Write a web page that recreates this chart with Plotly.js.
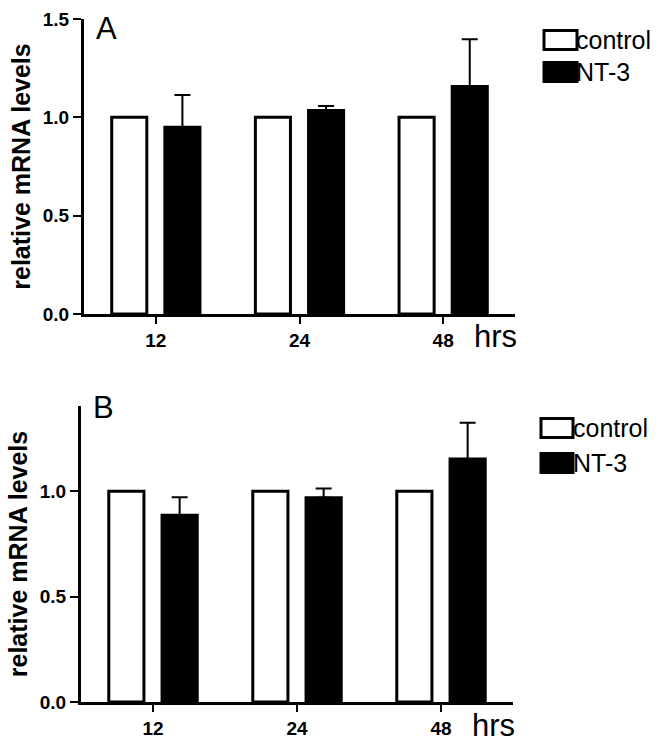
<!DOCTYPE html>
<html>
<head>
<meta charset="utf-8">
<script src="https://cdn.plot.ly/plotly-3.0.1.min.js"></script>
<style>html,body{margin:0;padding:0;background:#fff;}#chart{width:670px;height:748px;}</style>
</head>
<body>
<div id="chart"></div>
<script>
// ---- data ----
var hours = ["12", "24", "48"];
var seriesNames = ["control", "NT-3"];
var controlA = [1.0, 1.0, 1.0];
var nt3A = [0.95, 1.035, 1.157];
var nt3ErrA = [0.163, 0.023, 0.24];
var controlB = [1.0, 1.0, 1.0];
var nt3B = [0.886, 0.969, 1.154];
var nt3ErrB = [0.086, 0.044, 0.171];
var yTicksA = [0, 0.5, 1.0, 1.5];
var yTicksB = [0, 0.5, 1.0];
var panelLabels = ["A", "B"];
var unitLabel = "hrs";
var yTitle = "relative mRNA levels";

// ---- helpers (pixel -> paper) ----
var W = 670, H = 748;
function px(x){ return x / W; }
function py(y){ return 1 - y / H; }

var FONT = "Liberation Sans, Arial, sans-serif";
var zeros = [0, 0, 0];

function ctrlTrace(y, xa, ya){
  return {type:"bar", name:seriesNames[0], x:hours, y:y, xaxis:xa, yaxis:ya,
    marker:{color:"#ffffff", line:{color:"#000000", width:3}}, showlegend:false, hoverinfo:"skip"};
}
function ntTrace(y, err, xa, ya){
  return {type:"bar", name:seriesNames[1], x:hours, y:y, xaxis:xa, yaxis:ya,
    marker:{color:"#000000", line:{color:"#000000", width:3}}, showlegend:false, hoverinfo:"skip",
    error_y:{type:"data", symmetric:false, array:err, arrayminus:zeros, color:"#000000", thickness:2, width:8}};
}

var data = [
  ctrlTrace(controlA, "x", "y"),
  ntTrace(nt3A, nt3ErrA, "x", "y"),
  ctrlTrace(controlB, "x2", "y2"),
  ntTrace(nt3B, nt3ErrB, "x2", "y2")
];

function xaxisDef(d0, d1, anchor){
  return {domain:[px(d0), px(d1)], anchor:anchor, type:"category", range:[-0.5, 2.5],
    showline:true, linewidth:3, linecolor:"#000", ticks:"outside", ticklen:7, tickwidth:2, tickcolor:"#000",
    showgrid:false, zeroline:false, fixedrange:true,
    tickfont:{family:FONT, size:19, color:"#000", weight:"bold"}};
}
function yaxisDef(top, bottom, maxv, tv, anchor){
  return {domain:[py(bottom), py(top)], anchor:anchor, range:[0, maxv], tickvals:tv, tickformat:".1f",
    showline:true, linewidth:3, linecolor:"#000", ticks:"outside", ticklen:8, tickwidth:2, tickcolor:"#000",
    showgrid:false, zeroline:false, fixedrange:true,
    tickfont:{family:FONT, size:19, color:"#000", weight:"bold"},
    title:{text:yTitle, standoff:6, font:{family:FONT, size:25, color:"#000", weight:"bold"}}};
}

var shapes = [], annotations = [];
function legend(x0, x1, yc1, yc2, h, tx){
  shapes.push({type:"rect", xref:"paper", yref:"paper", x0:px(x0), x1:px(x1), y0:py(yc1 + h/2), y1:py(yc1 - h/2),
    line:{color:"#000", width:3}, fillcolor:"#fff"});
  shapes.push({type:"rect", xref:"paper", yref:"paper", x0:px(x0), x1:px(x1), y0:py(yc2 + h/2), y1:py(yc2 - h/2),
    line:{color:"#000", width:3}, fillcolor:"#000"});
  annotations.push({xref:"paper", yref:"paper", x:px(tx), y:py(yc1), xanchor:"left", yanchor:"middle", showarrow:false,
    text:seriesNames[0], font:{family:FONT, size:25, color:"#000"}});
  annotations.push({xref:"paper", yref:"paper", x:px(tx), y:py(yc2), xanchor:"left", yanchor:"middle", showarrow:false,
    text:seriesNames[1], font:{family:FONT, size:25, color:"#000"}});
}
legend(544, 577, 40, 72, 19, 574);
legend(541, 573, 428, 463, 19, 571);

function label(txt, x, y, size){
  annotations.push({xref:"paper", yref:"paper", x:px(x), y:py(y), xanchor:"left", yanchor:"middle", showarrow:false,
    text:txt, font:{family:FONT, size:size, color:"#000"}});
}
label(panelLabels[0], 94, 28, 31);
label(panelLabels[1], 91, 408, 31);
label(unitLabel, 472, 336, 31);
label(unitLabel, 470, 725, 31);

var layout = {
  width:W, height:H, margin:{l:0, r:0, t:0, b:0},
  paper_bgcolor:"#fff", plot_bgcolor:"rgba(0,0,0,0)",
  barmode:"group", bargap:0.26, bargroupgap:0.34,
  showlegend:false,
  xaxis:xaxisDef(84, 515, "y"),
  yaxis:yaxisDef(19, 314, 1.5, yTicksA, "x"),
  xaxis2:xaxisDef(81, 513, "y2"),
  yaxis2:yaxisDef(406, 702, 1.405, yTicksB, "x2"),
  shapes:shapes, annotations:annotations,
  font:{family:FONT, color:"#000"}
};

Plotly.newPlot("chart", data, layout, {displayModeBar:false, staticPlot:true});
</script>
</body>
</html>
